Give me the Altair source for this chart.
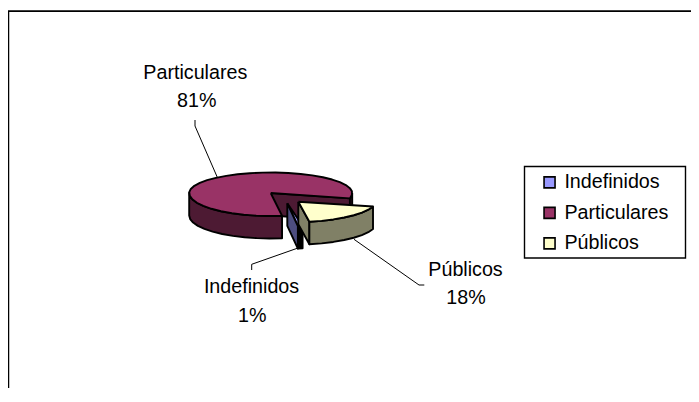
import math
import altair as alt
import pandas as pd

# Values
categories = ["Indefinidos", "Particulares", "Públicos"]
shares = [1, 81, 18]
percent_labels = ["1%", "81%", "18%"]
top_colors = ["#9999FF", "#993366", "#FFFFCC"]
wall_colors = ["#4D4D80", "#4D1A33", "#808066"]

W, H = 683, 380
FONT = "Liberation Sans"
FS = 19.7
DEPTH = 22.5
START = 168.4  # clockwise from the top, where the first slice begins
STEP = 9
OUTLINE = 1.9

x_scale = alt.Scale(domain=[8, 8 + W], nice=False, zero=False)
y_scale = alt.Scale(domain=[8, 8 + H], reverse=True, nice=False, zero=False)
X = lambda f="x": alt.X(f"{f}:Q", scale=x_scale, axis=None)
Y = lambda f="y": alt.Y(f"{f}:Q", scale=y_scale, axis=None)

# slice angular extents from the shares
spans = {}
a = START
for c, s in zip(categories, shares):
    spans[c] = (a, a + s * 3.6)
    a += s * 3.6

# per-slice ellipse geometry: apex x, apex y, rx, ry back, ry front, shear
geo = {
    "Indefinidos": (287.3, 203.3, 76, 20.5, 23, 0),
    "Particulares": (270.7, 193, 81.5, 20.5, 23, 0),
    "Públicos": (298.3, 201.7, 78, 20.5, 20.5, 0.23),
}


def pt(c, ang, drop=0.0):
    cx, cy, rx, rb, rf, sh = geo[c]
    s, co = math.sin(math.radians(ang)), math.cos(math.radians(ang))
    dy = -(rb if co > 0 else rf) * co
    return (cx + rx * s - sh * (dy if dy > 0 else 0), cy + dy + drop)


def arc(c, a0, a1):
    n = max(1, int(round(abs(a1 - a0) / STEP)))
    return [pt(c, a0 + (a1 - a0) * i / n) for i in range(n + 1)]


def drop(points):
    return [(x, y + DEPTH) for x, y in points]


def poly(points, fill=None, series=None):
    pts = list(points) + [points[0]]
    df = pd.DataFrame(
        {"x": [p[0] for p in pts], "y": [p[1] for p in pts], "i": range(len(pts))}
    )
    enc = dict(x=X(), y=Y(), order=alt.Order("i:Q"))
    if series is not None:
        df["series"] = series
        enc["fill"] = alt.Fill(
            "series:N",
            scale=alt.Scale(domain=categories, range=top_colors),
            legend=alt.Legend(
                title=None,
                orient="none",
                legendX=544.7 - 8 - 5,
                legendY=172.5 - 8,
                symbolType="square",
                symbolSize=121,
                symbolStrokeColor="#000000",
                symbolStrokeWidth=1.6,
                symbolOpacity=1,
                labelFont=FONT,
                labelFontSize=FS,
                labelColor="#000000",
                labelOffset=5,
                labelLimit=200,
                rowPadding=9.5,
                padding=0,
            ),
        )
        return alt.Chart(df).mark_line(
            stroke="#000000", strokeWidth=OUTLINE, strokeJoin="round", clip=False
        ).encode(**enc)
    return alt.Chart(df).mark_line(
        fill=fill, stroke="#000000", strokeWidth=OUTLINE, strokeJoin="round", clip=False
    ).encode(**enc)


def wall(c, a0, a1, fill):
    top = arc(c, a0, a1)
    return poly(top + drop(top)[::-1], fill=fill)


def cut_wall(c, ang, fill):
    apex = (geo[c][0], geo[c][1])
    p = pt(c, ang)
    return poly([apex, p, (p[0], p[1] + DEPTH), (apex[0], apex[1] + DEPTH)], fill=fill)


def top_face(c):
    a0, a1 = spans[c]
    return poly([(geo[c][0], geo[c][1])] + arc(c, a0, a1), series=c)


color_wall = dict(zip(categories, wall_colors))
p0, p1 = spans["Particulares"]
u0, u1 = spans["Públicos"] if spans["Públicos"][0] < 360 else (
    spans["Públicos"][0] - 360, spans["Públicos"][1] - 360)
geo_part_end = p1 - 360
spans["Públicos"] = (u0, u1)
i0, i1 = spans["Indefinidos"]

layers = []
# frame and legend box
frame = pd.DataFrame({"x": [8.4, 8.4, 8 + W], "y": [8 + H, 11.2, 11.2], "i": [0, 1, 2]})
layers.append(
    alt.Chart(frame)
    .mark_line(color="#000000", strokeWidth=1.7, clip=False)
    .encode(x=X(), y=Y(), order=alt.Order("i:Q"))
)
box = pd.DataFrame({"x": [524.5], "x2": [685.5], "y": [166.5], "y2": [258]})
layers.append(
    alt.Chart(box)
    .mark_rect(fill="#FFFFFF", stroke="#000000", strokeWidth=1.4)
    .encode(x=X(), x2="x2:Q", y=Y(), y2="y2:Q")
)

# leader lines
leaders = {
    "Particulares": ([195, 195, 217.3], [120, 126, 177.3]),
    "Indefinidos": ([251.7, 251.7, 300], [270, 264.3, 247.3]),
    "Públicos": ([354, 419, 424.3], [239.3, 285, 285]),
}
for c, (lx, ly) in leaders.items():
    d = pd.DataFrame({"x": lx, "y": ly, "i": range(len(lx))})
    layers.append(
        alt.Chart(d)
        .mark_line(color="#000000", strokeWidth=1)
        .encode(x=X(), y=Y(), order=alt.Order("i:Q"))
    )

# main body
layers.append(cut_wall("Particulares", geo_part_end, color_wall["Particulares"]))
layers.append(wall("Particulares", 90, geo_part_end, color_wall["Particulares"]))
layers.append(wall("Particulares", p0, 270, color_wall["Particulares"]))
layers.append(top_face("Particulares"))
# thin slice
layers.append(wall("Indefinidos", i0, i1, "#000000"))
layers.append(top_face("Indefinidos"))
layers.append(cut_wall("Indefinidos", i1, color_wall["Indefinidos"]))
# exploded slice
layers.append(cut_wall("Públicos", u1, color_wall["Públicos"]))
layers.append(wall("Públicos", u0, u1, color_wall["Públicos"]))
layers.append(top_face("Públicos"))

# data labels
labels = pd.DataFrame(
    {
        "text": categories + percent_labels,
        "x": [251.5, 195.3, 465.5, 252.3, 196.7, 466],
        "y": [293.3, 79.3, 275.7, 321.7, 107.3, 304.3],
    }
)
layers.append(
    alt.Chart(labels)
    .mark_text(font=FONT, fontSize=FS, align="center", baseline="alphabetic", color="#000000")
    .encode(x=X(), y=Y(), text="text:N")
)

chart = (
    alt.layer(*layers)
    .properties(
        width=W,
        height=H,
        padding=0,
        autosize=alt.AutoSizeParams(type="none"),
        background="#FFFFFF",
    )
    .configure_view(stroke=None)
)
chart.save("out.html", embed_options={"renderer": "svg", "actions": False})
